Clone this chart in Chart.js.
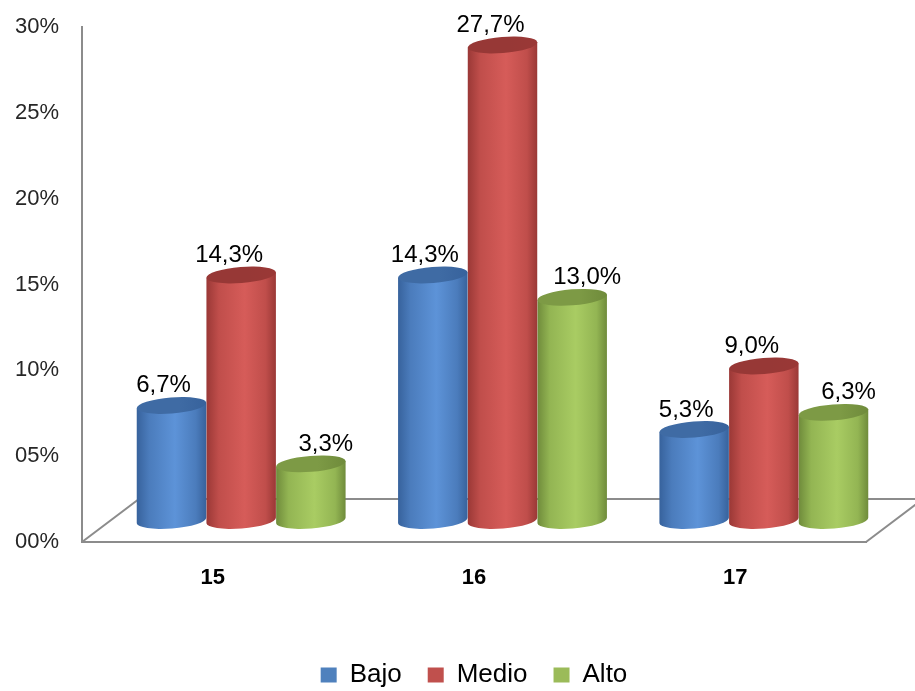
<!DOCTYPE html>
<html lang="es">
<head>
    <meta charset="UTF-8">
    <title>Nivel por edad</title>
    <script src="https://cdn.jsdelivr.net/npm/chart.js"></script>
    <style>
        html, body { margin: 0; padding: 0; background: #fff; }
        #wrap { width: 915px; height: 691px; }
    </style>
</head>
<body>
    <div id="wrap"><canvas id="grafico" width="915" height="691"></canvas></div>
    <script>
        // Datos: porcentaje por edad y nivel
        var edades = ['15', '16', '17'];
        var bajo = [6.7, 14.3, 5.3];
        var medio = [14.3, 27.7, 9.0];
        var alto = [3.3, 13.0, 6.3];
        var ticksY = ['00%', '05%', '10%', '15%', '20%', '25%', '30%'];

        // Colores de cada cilindro (borde oscuro, centro claro, tapa)
        var colores = [
            { base: '#4f81bd', dark: '#37629c', mid: '#4b7cbc', light: '#5d93d8', top: '#3f6ba4' },
            { base: '#c0504d', dark: '#9a3836', mid: '#c04e4b', light: '#d65c59', top: '#973836' },
            { base: '#9bbb59', dark: '#6f8b3b', mid: '#93b553', light: '#a9cc63', top: '#7d9a45' }
        ];
        // corrimiento horizontal de la etiqueta de cada serie
        var corrEtiqueta = [-8, -12, 15];

        // desplazamiento del fondo del piso 3D; las columnas van a media profundidad
        var piso = { dx: 57, dy: -43 };
        var radioTapa = 8;
        var giro = -0.08;

        function cilindro(ctx, x, yTop, yBase, w, c) {
            var rx = w / 2, ry = radioTapa;
            var cx = rx * Math.cos(giro), cy = rx * Math.sin(giro);
            var g = ctx.createLinearGradient(x - rx, 0, x + rx, 0);
            g.addColorStop(0, c.dark);
            g.addColorStop(0.18, c.mid);
            g.addColorStop(0.55, c.light);
            g.addColorStop(0.85, c.mid);
            g.addColorStop(1, c.dark);
            ctx.fillStyle = g;
            ctx.beginPath();
            ctx.moveTo(x - cx, yTop - cy);
            ctx.lineTo(x - cx, yBase - cy);
            ctx.ellipse(x, yBase, rx, ry, giro, Math.PI, 0, true);
            ctx.lineTo(x + cx, yTop + cy);
            ctx.closePath();
            ctx.fill();
            // tapa superior
            var gt = ctx.createLinearGradient(x - rx, 0, x + rx, 0);
            gt.addColorStop(0, c.top);
            gt.addColorStop(0.6, c.top);
            gt.addColorStop(1, c.dark);
            ctx.fillStyle = gt;
            ctx.beginPath();
            ctx.ellipse(x, yTop, rx, ry, giro, 0, Math.PI * 2);
            ctx.fill();
        }

        var cilindros3d = {
            id: 'cilindros3d',
            beforeDatasetsDraw: function (chart) {
                var ctx = chart.ctx, a = chart.chartArea;
                // piso en perspectiva
                ctx.save();
                ctx.strokeStyle = '#8c8c8c';
                ctx.lineWidth = 2;
                ctx.beginPath();
                ctx.moveTo(a.left, a.bottom);
                ctx.lineTo(a.left + piso.dx, a.bottom + piso.dy);
                ctx.lineTo(a.right + piso.dx, a.bottom + piso.dy);
                ctx.lineTo(a.right, a.bottom);
                ctx.stroke();

                var sx = piso.dx / 2, sy = piso.dy / 2;
                for (var d = chart.data.datasets.length - 1; d >= 0; d--) {
                    chart.getDatasetMeta(d).data.forEach(function (bar) {
                        cilindro(ctx, bar.x + sx, bar.y + sy, bar.base + sy, bar.width, colores[d]);
                    });
                }
                // etiquetas de valor
                ctx.font = '24px "Liberation Sans"';
                ctx.textAlign = 'center';
                ctx.textBaseline = 'alphabetic';
                ctx.fillStyle = '#000';
                chart.data.datasets.forEach(function (ds, d) {
                    chart.getDatasetMeta(d).data.forEach(function (bar, i) {
                        var txt = ds.data[i].toFixed(1).replace('.', ',') + '%';
                        ctx.fillText(txt, bar.x + sx + corrEtiqueta[d], bar.y + sy - radioTapa - 5);
                    });
                });
                ctx.restore();
                return false;
            }
        };

        // ancho fijo del eje, sin reservar margen extra arriba/abajo
        function fijarAncho(w) {
            return function (s) {
                s.width = w;
                s.paddingTop = 0;
                s.paddingBottom = 0;
            };
        }

        var ctx = document.getElementById('grafico').getContext('2d');
        new Chart(ctx, {
            type: 'bar',
            data: {
                labels: edades,
                datasets: [
                    { label: 'Bajo', data: bajo, backgroundColor: colores[0].base },
                    { label: 'Medio', data: medio, backgroundColor: colores[1].base },
                    { label: 'Alto', data: alto, backgroundColor: colores[2].base }
                ]
            },
            options: {
                responsive: false,
                animation: false,
                layout: { padding: { left: 0, right: 0, top: 27, bottom: -7 } },
                datasets: { bar: { categoryPercentage: 0.8, barPercentage: 1.0 } },
                scales: {
                    y: {
                        min: 0, max: 30,
                        grid: { display: false, drawTicks: false },
                        border: { display: true, color: '#8c8c8c', width: 2 },
                        ticks: {
                            stepSize: 5,
                            padding: 23,
                            color: '#262626',
                            font: { family: 'Liberation Sans', size: 22 },
                            callback: function (v) { return ticksY[v / 5]; }
                        },
                        afterFit: fijarAncho(82)
                    },
                    // eje vacío a la derecha, solo reserva espacio para el piso
                    y2: {
                        position: 'right',
                        grid: { display: false, drawTicks: false },
                        border: { display: false },
                        ticks: { display: false },
                        afterFit: fijarAncho(49)
                    },
                    x: {
                        grid: { display: false, drawTicks: false },
                        border: { display: true, color: '#8c8c8c', width: 2 },
                        ticks: {
                            padding: 23,
                            color: '#000',
                            font: { family: 'Liberation Sans', size: 22, weight: 'bold' }
                        },
                        afterFit: function (s) { s.height = 94; }
                    }
                },
                plugins: {
                    tooltip: { enabled: false },
                    legend: {
                        position: 'bottom',
                        fullSize: false,
                        labels: {
                            boxWidth: 16,
                            boxHeight: 15,
                            padding: 26,
                            color: '#000',
                            font: { family: 'Liberation Sans', size: 26 }
                        }
                    }
                }
            },
            plugins: [cilindros3d]
        });
    </script>
</body>
</html>
